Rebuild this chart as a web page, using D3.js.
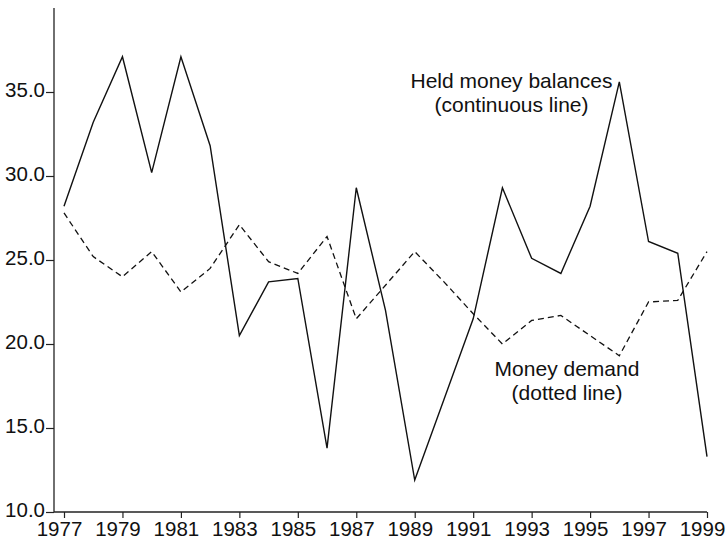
<!DOCTYPE html>
<html>
<head>
<meta charset="utf-8">
<script src="https://cdn.jsdelivr.net/npm/d3@7"></script>
<style>
body{margin:0;background:#fff;}
svg text{font-family:"Liberation Sans",Arial,Helvetica,sans-serif;fill:#111;}
</style>
</head>
<body>
<svg></svg>
<script>
var years=d3.range(1977,2000);
var heldBalances=[28.2,33.2,37.1,30.2,37.1,31.8,20.5,23.7,23.9,13.8,29.3,22.0,11.9,16.7,21.5,29.3,25.1,24.2,28.2,35.6,26.1,25.4,13.3];
var moneyDemand=[27.8,25.2,24.0,25.5,23.1,24.5,27.1,24.9,24.2,26.4,21.5,23.5,25.5,23.7,21.8,20.0,21.4,21.7,20.5,19.3,22.5,22.6,25.5];
var yTicks=[10,15,20,25,30,35];
var xTicks=[1977,1979,1981,1983,1985,1987,1989,1991,1993,1995,1997,1999];

var w=728;
var h=547;
var axisX=54;   // y axis position
var axisY=512;  // x axis position
var fontSize="20.5px";

var xScale=d3.scaleLinear()
             .domain([1977,1999])
             .range([64,707]);
var yScale=d3.scaleLinear()
             .domain([10,40])
             .range([axisY,8]);

var svg=d3.select("svg")
          .attr("width",w)
          .attr("height",h);

//////////////////////////////////////////////
var xAxis=d3.axisBottom(xScale)
            .tickValues(xTicks)
            .tickFormat(d3.format("d"))
            .tickSize(6)
            .tickSizeOuter(0)
            .tickPadding(3);
var yAxis=d3.axisLeft(yScale)
            .tickValues(yTicks)
            .tickFormat(d3.format(".1f"))
            .tickSize(8)
            .tickSizeOuter(0)
            .tickPadding(1);

var gx=svg.append("g")
   .attr("transform","translate(0,"+axisY+")")
   .call(xAxis);
gx.select(".domain").remove();
gx.append("line")
  .attr("x1",axisX)
  .attr("x2",xScale(1999))
  .attr("stroke","#222")
  .attr("stroke-width",1.3);
// labels sit a little left of their ticks in the original
gx.selectAll(".tick text").attr("dx",-5);

var gy=svg.append("g")
   .attr("transform","translate("+axisX+",0)")
   .call(yAxis);
gy.select(".domain").remove();
gy.append("line")
  .attr("y1",yScale(40))
  .attr("y2",axisY)
  .attr("stroke","#222")
  .attr("stroke-width",1.3);
gy.selectAll(".tick text").attr("dy","0.22em");

svg.selectAll(".tick line")
   .attr("stroke","#222")
   .attr("stroke-width",1.2);
svg.selectAll(".tick text")
   .style("font-size",fontSize)
   .attr("fill","#111");

//////////////////////////////////////////////
var line=function(values){
  return d3.line()
           .x(function(d,i){return xScale(years[i]);})
           .y(function(d){return yScale(d);})(values);
};

svg.append("path")
   .attr("d",line(moneyDemand))
   .attr("fill","none")
   .attr("stroke","#111")
   .attr("stroke-width",1.3)
   .attr("stroke-dasharray","6,4");

svg.append("path")
   .attr("d",line(heldBalances))
   .attr("fill","none")
   .attr("stroke","#111")
   .attr("stroke-width",1.4);

//////////////////////////////////////////////
var note=function(x,y,lines){
  svg.append("text")
     .attr("x",x)
     .attr("y",y)
     .attr("text-anchor","middle")
     .style("font-size","21px")
     .selectAll("tspan")
     .data(lines)
     .enter()
     .append("tspan")
     .attr("x",x)
     .attr("dy",function(d,i){return i==0?0:24;})
     .text(function(d){return d;});
};
note(511.5,88,["Held money balances","(continuous line)"]);
note(567,376,["Money demand","(dotted line)"]);
</script>
</body>
</html>
